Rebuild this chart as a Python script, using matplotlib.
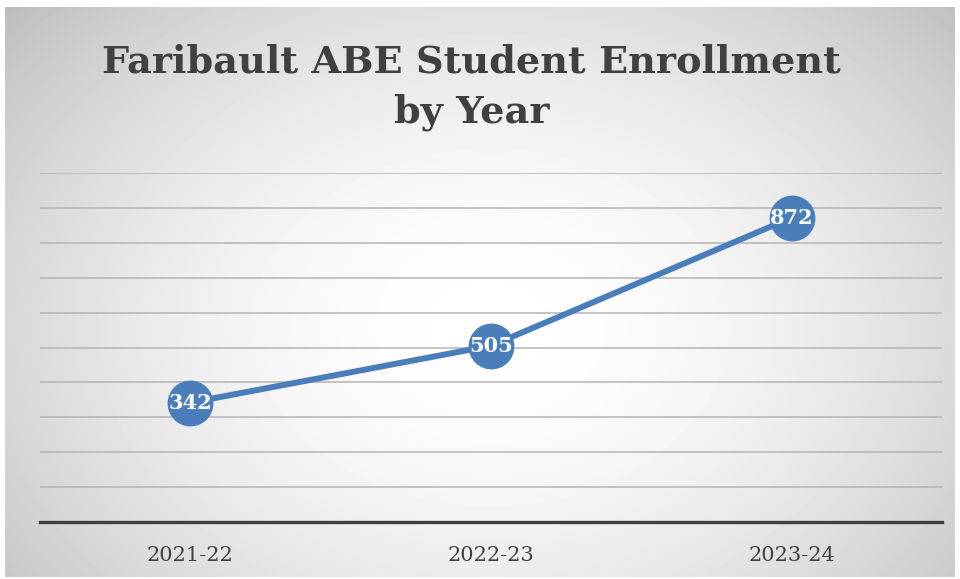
import numpy as np
import matplotlib.pyplot as plt

years = ['2021-22', '2022-23', '2023-24']
enrollment = [342, 505, 872]

title = 'Faribault ABE Student Enrollment\nby Year'
line_color = '#4a7ebb'
text_color = '#404040'

W, H = 960, 579
fig = plt.figure(figsize=(W / 100, H / 100), dpi=100)
fig.patch.set_facecolor('white')

# radial gradient background (white centre -> grey edges)
bg = fig.add_axes([5 / W, 2 / H, 950 / W, 570 / H], zorder=-1)
yy, xx = np.mgrid[0:570, 0:950]
r = np.sqrt(((xx - 485) / 560.0) ** 2 + ((yy - 320) / 420.0) ** 2)
r = np.clip(r, 0, 1.2)
shade = 1.0 - 0.2 * r ** 1.8
bg.imshow(shade, cmap='gray', vmin=0, vmax=1, aspect='auto', interpolation='bilinear')
bg.set_axis_off()

ax = fig.add_axes([40 / W, (H - 522) / H, 902 / W, 349 / H])
ax.set_facecolor('none')
x = np.arange(len(years))
ax.plot(x, enrollment, color=line_color, lw=4.3, solid_capstyle='round',
        marker='o', markersize=32, markerfacecolor=line_color,
        markeredgecolor=line_color, zorder=3)
for xi, v in zip(x, enrollment):
    ax.text(xi, v, str(v), ha='center', va='center', color='white',
            fontsize=15, fontweight='bold', family='DejaVu Serif', zorder=4)

ax.set_xlim(-0.5, len(years) - 0.5)
ax.set_ylim(0, 1000)
ax.set_yticks(np.arange(100, 1001, 100))
ax.yaxis.grid(True, color='#b4b4b4', lw=1.1)
ax.set_axisbelow(True)
ax.tick_params(axis='y', left=False, labelleft=False)
ax.set_xticks(x)
ax.set_xticklabels(years, fontsize=15, color=text_color, family='DejaVu Serif')
ax.tick_params(axis='x', length=0, pad=17)
for s in ['top', 'right', 'left']:
    ax.spines[s].set_visible(False)
ax.spines['bottom'].set_color(text_color)
ax.spines['bottom'].set_linewidth(2.4)

fig.text(0.491, (H - 87) / H, title, ha='center', va='center', fontsize=27.5,
         fontweight='bold', color=text_color, family='DejaVu Serif',
         linespacing=1.45)

fig.savefig('out.png', dpi=100)
